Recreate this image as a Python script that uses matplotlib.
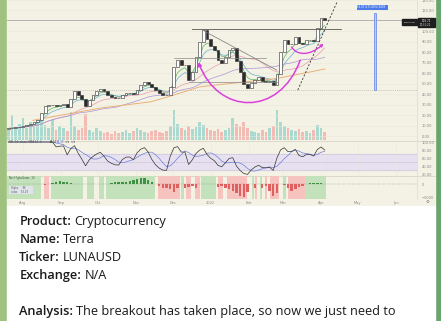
import numpy as np
import pandas as pd
import matplotlib
matplotlib.use('Agg')
import matplotlib.pyplot as plt
from matplotlib.patches import Rectangle, FancyArrowPatch
from matplotlib.path import Path

# ---------------- data ----------------
start = pd.Timestamp('2021-07-20')
candle_dates = pd.date_range('2021-07-20', periods=87, freq='3D')
first_open = 7.0
closes = [7.3, 7.8, 8.3, 8.8, 9.9, 10.8, 11.7, 13.0, 15.5, 22.0,
          28.8, 29.6, 29.6, 28.4, 29.7, 30.3, 28.2, 35.0, 43.0, 39.0,
          35.0, 28.8, 34.5, 38.8, 42.6, 45.4, 43.0, 39.5, 37.7, 36.6,
          36.4, 39.4, 40.9, 41.0, 40.1, 44.3, 48.7, 51.5, 50.0, 46.8,
          43.6, 41.0, 39.2, 39.0, 47.0, 66.0, 72.7, 68.0, 68.0, 54.0,
          61.0, 76.0, 90.0, 101.0, 92.3, 86.0, 82.0, 73.0, 70.0, 75.5,
          82.6, 84.0, 72.0, 61.0, 50.0, 46.0, 50.8, 54.0, 56.0, 52.6,
          52.0, 52.5, 48.7, 59.5, 80.0, 92.0, 87.5, 88.0, 95.0, 89.0,
          87.7, 91.5, 91.5, 90.6, 103.0, 113.0, 110.7]
volumes = [10, 25, 12, 16, 22, 12, 18, 14, 20, 22,
           15, 12, 20, 10, 14, 12, 9, 28, 14, 10,
           12, 26, 10, 8, 12, 9, 7, 8, 6, 9,
           7, 8, 10, 7, 9, 12, 10, 8, 7, 9,
           10, 8, 7, 9, 14, 30, 16, 12, 10, 14,
           11, 13, 18, 15, 12, 10, 9, 11, 8, 10,
           12, 22, 16, 14, 18, 12, 9, 8, 7, 10,
           8, 12, 14, 30, 18, 14, 12, 10, 9, 11,
           8, 9, 7, 10, 15, 12, 8]
net_highs_lows = [0, 0, 0, 0, 0, 0, 0, 0, 0, 0,
                  -20, -10, 120, 200, 250, 180, 150, 100, 60, 30,
                  10, 10, 60, 40, 10, 20, 20, 40, 120, 150,
                  180, 200, 150, 220, 300, 400, 480, 450, 350, 150,
                  50, -150, -300, -250, -400, -600, -250, 20, -300, -200,
                  -100, -250, 20, 40, 30, 20, 10, -200, -150, -250,
                  -400, -500, -700, -900, -1000, -600, 10, -250, 20, -300,
                  -150, -500, -900, -700, 20, -50, -300, -500, -350, -200,
                  -100, 60, 100, 120, 80, 100, 60]
span_start = ['2021-07-19', '2021-08-18', '2021-08-24', '2021-09-22', '2021-10-02',
              '2021-10-08', '2021-11-19', '2021-12-08', '2021-12-12', '2021-12-19',
              '2021-12-24', '2022-01-07', '2022-01-14', '2022-02-04', '2022-02-06',
              '2022-02-10', '2022-02-14', '2022-02-18', '2022-03-01', '2022-03-05',
              '2022-03-19']
span_end = ['2021-08-16', '2021-08-22', '2021-09-19', '2021-09-28', '2021-10-06',
            '2021-11-17', '2021-12-07', '2021-12-10', '2021-12-16', '2021-12-23',
            '2022-01-05', '2022-01-11', '2022-01-31', '2022-02-05', '2022-02-08',
            '2022-02-12', '2022-02-16', '2022-02-26', '2022-03-03', '2022-03-19',
            '2022-04-05']
span_sign = [1, -1, 1, 1, 1, 1, -1, 1, -1, -1,
             1, -1, -1, 1, -1, 1, -1, -1, 1, -1, 1]
ma200_dates = ['2021-08-09', '2021-10-03', '2021-11-13', '2021-11-26', '2021-12-23',
               '2022-01-19', '2022-02-24', '2022-04-04']
ma200_vals = [15.0, 26.7, 32.7, 37.0, 47.0, 50.5, 55.0, 64.0]
month_dates = ['2021-08-01', '2021-09-01', '2021-10-01', '2021-11-01', '2021-12-01',
               '2022-01-01', '2022-02-01', '2022-03-01', '2022-04-01', '2022-05-01',
               '2022-06-01']
month_labels = ['Aug', 'Sep', 'Oct', 'Nov', 'Dec', '2022', 'Feb', 'Mar', 'Apr', 'May', 'Jun']
price_ticks = [0, 10, 20, 30, 40, 50, 60, 70, 80, 90, 100, 120, 130]
rsi_ticks = [20, 40, 60, 80, 100]
last_price = 110.71
measure_low, measure_high = 43.9, 117.5
resistance = 102.7
text_lines = [("Product:", "Cryptocurrency"), ("Name:", "Terra"), ("Ticker:", "LUNAUSD"),
              ("Exchange:", "N/A"), None,
              ("Analysis:", "The breakout has taken place, so now we just need to")]

# ---------------- helpers ----------------
W, H = 441, 321
fig = plt.figure(figsize=(W / 100, H / 100), dpi=100)
fig.patch.set_facecolor('#76ab74')


def frect(x, y, w, h):
    return [x / W, 1 - (y + h) / H, w / W, h / H]


def days(d):
    return (pd.to_datetime(d) - start).days


bg = fig.add_axes([0, 0, 1, 1])
bg.set_zorder(-10)
bg.set_xlim(0, W)
bg.set_ylim(H, 0)
bg.axis('off')
bg.add_patch(Rectangle((0, 0), 7, H, color='#9fc27f'))
bg.add_patch(Rectangle((435, 0), 6, H, color='#68a56d'))
bg.add_patch(Rectangle((7, 0), 428, 205.5, color='#f4f2e5'))
bg.add_patch(Rectangle((7, 205.5), 428, 116, color='white'))
bg.plot([7, 435], [140.5, 140.5], color='#d8d5c6', lw=0.6)
bg.plot([7, 435], [175.5, 175.5], color='#d8d5c6', lw=0.6)
bg.plot([416.5, 416.5], [0, 199], color='#dedbcc', lw=0.5)

# overlay for small labels drawn above everything
fg = fig.add_axes([0, 0, 1, 1])
fg.set_zorder(10)
fg.set_xlim(0, W)
fg.set_ylim(H, 0)
fg.axis('off')

x = np.array((candle_dates - start).days)
c = np.array(closes)
o = np.concatenate([[first_open], c[:-1]])
up = c >= o
mdays = np.array(days(month_dates))
xlim = (-1.06, 332.8)
grid_c = '#ebe8da'
lab_c = '#8a8a8a'
tiny = 2.6

# ---------------- main price pane ----------------
ax = fig.add_axes(frect(7, 0, 409.5, 140))
ax.set_facecolor('none')
ax.set_zorder(2)
axv = ax.twinx()
axv.set_zorder(1)
axv.set_xlim(*xlim)
axv.set_ylim(0, 140)
axv.axis('off')
axv.bar(x, volumes, width=2.2, color=np.where(up, '#9dd6cc', '#f4b1ac'), alpha=0.85, lw=0)

ax.set_xlim(*xlim)
ax.set_ylim(-3.8, 129.6)
for s in ax.spines.values():
    s.set_visible(False)
ax.yaxis.tick_right()
ax.set_yticks(price_ticks)
ax.set_yticklabels(['%.2f' % v for v in price_ticks])
ax.tick_params(axis='y', left=False, right=False, labelleft=False, labelright=True,
               length=0, pad=3.5, labelsize=tiny, labelcolor=lab_c)
ax.set_xticks(mdays)
ax.tick_params(axis='x', length=0, labelbottom=False)
axv.set_xticks(mdays)
axv.grid(True, axis='x', color=grid_c, lw=0.4)

cs = pd.Series(c)
for lv in price_ticks:
    ax.axhline(lv, color=grid_c, lw=0.4, zorder=0)
ax.plot(x, cs.ewm(span=4).mean(), color='#5cb860', lw=0.5, zorder=3)
ax.plot(x, cs.ewm(span=7).mean(), color='#6ab0cc', lw=0.5, zorder=3)
ax.plot(x, cs.rolling(17, min_periods=1).mean(), color='#e89ab2', lw=0.5, zorder=3)
ax.plot(x, cs.rolling(30, min_periods=1).mean(), color='#ab93d8', lw=0.5, zorder=3)
ax.plot(days(ma200_dates), ma200_vals, color='#eab078', lw=0.7, zorder=3)

ax.bar(x, np.abs(c - o), bottom=np.minimum(o, c), width=2.3,
       color=np.where(up, '#ffffff', '#2a2a2a'), edgecolor='#2a2a2a', lw=0.4, zorder=5)

ax.axhline(last_price, color='#9a9a9a', lw=0.5, zorder=2)
ax.axhline(measure_low, color='#b8b5a8', lw=0.5, ls=(0, (1.5, 1.5)), zorder=2)
ax.plot([days('2021-12-17'), days('2022-04-17')], [resistance, resistance], color='#555555', lw=0.6, zorder=6)
ax.plot([days('2021-12-27'), days('2022-02-24')], [100.1, 62.9], color='#777777', lw=0.5, zorder=6)
ax.plot([days('2021-12-02'), days('2022-02-15')], [74.6, 74.6], color='#8a8a8a', lw=0.5, zorder=6)
ax.plot([days('2021-12-14'), days('2022-02-24')], [51.5, 51.5], color='#8a8a8a', lw=0.5, zorder=6)
ax.plot([days('2022-03-13'), days('2022-04-14')], [43.9, 128.0], color='#333333', lw=0.6,
        ls=(0, (2.5, 2)), zorder=6)

mag = '#d93fdc'
big_u = Path([(days('2022-03-15'), 72.5), (days('2022-02-26'), 18.0),
              (days('2022-01-07'), 20.0), (days('2021-12-22'), 70.6)],
             [Path.MOVETO, Path.CURVE4, Path.CURVE4, Path.CURVE4])
ax.add_patch(FancyArrowPatch(path=big_u, arrowstyle='-|>', mutation_scale=5,
                             color=mag, lw=1.1, zorder=7))
small_u = Path([(days('2022-03-08'), 85.1), (days('2022-03-12'), 77.0),
                (days('2022-03-23'), 76.0), (days('2022-04-03'), 88.4)],
               [Path.MOVETO, Path.CURVE4, Path.CURVE4, Path.CURVE4])
ax.add_patch(FancyArrowPatch(path=small_u, arrowstyle='-|>', mutation_scale=4,
                             color=mag, lw=1.0, zorder=7))

m0, m1 = days('2022-05-14'), days('2022-05-16')
ax.add_patch(Rectangle((m0, measure_low), m1 - m0, measure_high - measure_low,
                       facecolor='#b9cbf6', edgecolor='#5b82e8', lw=0.5, zorder=6))
ax.add_patch(Rectangle((days('2022-04-30'), 120.8), 25.5, 4.4, facecolor='#4d7bea',
                       edgecolor='none', zorder=7))
ax.text(days('2022-05-12'), 123.0, '64.38 (271.08%) 6438', fontsize=1.8, color='white',
        ha='center', va='center', zorder=8)

fg.add_patch(Rectangle((402, 19.2), 15, 5.8, color='#1e1e1e'))
fg.text(409.5, 22.1, 'LUNAUSD', fontsize=1.7, color='white', ha='center', va='center')
fg.add_patch(Rectangle((417.5, 18.2), 17.5, 8.6, color='#1e1e1e'))
fg.text(426, 20.6, '%.2f' % last_price, fontsize=2.0, color='white', ha='center', va='center')
fg.text(426, 24.6, '00:31:22', fontsize=1.8, color='#dddddd', ha='center', va='center')

# ---------------- RSI pane ----------------
delta = cs.diff()
gain = delta.clip(lower=0).ewm(alpha=1 / 5, adjust=False).mean()
loss = (-delta.clip(upper=0)).ewm(alpha=1 / 5, adjust=False).mean()
rsi = 100 - 100 / (1 + gain / loss.replace(0, np.nan))
rsi = rsi.fillna(100)
rsi_ma = rsi.rolling(5, min_periods=1).mean()

ar = fig.add_axes(frect(7, 140.5, 409.5, 35))
ar.set_facecolor('none')
ar.set_xlim(*xlim)
ar.set_ylim(16.25, 103.75)
for s in ar.spines.values():
    s.set_visible(False)
ar.yaxis.tick_right()
ar.set_yticks(rsi_ticks)
ar.set_yticklabels(['%.2f' % v for v in rsi_ticks])
ar.tick_params(axis='y', length=0, pad=3.5, labelsize=tiny, labelcolor=lab_c)
ar.set_xticks(mdays)
ar.tick_params(axis='x', length=0, labelbottom=False)
ar.grid(True, axis='x', color=grid_c, lw=0.4)
ar.axhspan(30, 70, color='#e7e0f0', zorder=0)
for lvl in (30, 50, 70):
    ar.axhline(lvl, color='#a7a3b5', lw=0.4, ls=(0, (1.5, 1.5)))
ar.plot(x, rsi_ma, color='#6d7fd8', lw=0.5)
ar.plot(x, rsi, color='#333333', lw=0.5)
ar.text(days('2021-07-20') + 0.5, 99.5, 'RSI  14  close  SMA 14  2', fontsize=1.9, color='#555555', va='center')
ar.text(days('2021-08-24') - 1, 99.5, '64.57', fontsize=1.9, color='#222222', va='center')
ar.text(days('2021-08-29') - 0.5, 99.5, '62.33', fontsize=1.9, color='#3b5bdb', va='center')
ar.text(days('2021-09-04'), 99.5, 'n/a  n/a', fontsize=1.9, color='#555555', va='center')

# ---------------- Net highs / lows pane ----------------
ah = fig.add_axes(frect(7, 175.5, 409.5, 23.5))
ah.set_facecolor('none')
ah.set_xlim(*xlim)
ah.set_ylim(-1131, 677)
for s in ah.spines.values():
    s.set_visible(False)
ah.yaxis.tick_right()
ah.set_yticks([0, -1000])
ah.set_yticklabels(['0', '\u22121000'])
ah.tick_params(axis='y', length=0, pad=3.5, labelsize=tiny, labelcolor=lab_c)
ah.set_xticks(mdays)
ah.set_xticklabels(month_labels)
ah.tick_params(axis='x', length=0, pad=1.2, labelsize=tiny, labelcolor=lab_c)
for s0, s1, sg in zip(span_start, span_end, span_sign):
    ah.axvspan(days(s0), days(s1), color='#c3e2bc' if sg > 0 else '#f6c3be', lw=0, zorder=0)
nhl = np.array(net_highs_lows)
ah.bar(x, nhl, width=2.0, color=np.where(nhl >= 0, '#3f8f45', '#e06060'), lw=0, zorder=2)
ah.axhline(0, color='#555555', lw=0.3, ls=(0, (1, 2)), zorder=1)
ah.text(0.8, 510, 'Net Highs/Lows  13', fontsize=1.9, color='#444444', va='center', zorder=4)
ah.add_patch(Rectangle((0.8, -720), 19, 560, facecolor='#dfe3ea', edgecolor='none', zorder=3))
ah.text(2.0, -300, 'Highs      96', fontsize=1.8, color='#555555', va='center', zorder=4)
ah.text(2.0, -590, 'Lows     53.29', fontsize=1.8, color='#555555', va='center', zorder=4)
fg.text(428, 202, '\u2699', fontsize=3.2, color='#777777', ha='center', va='center')

# ---------------- text block ----------------
fs = 9.2
fam = ['Open Sans', 'DejaVu Sans']
renderer = fig.canvas.get_renderer()
baselines = [225.3, 243.0, 261.0, 279.0, None, 315.0]
for item, yb in zip(text_lines, baselines):
    if item is None:
        continue
    lab, val = item
    t = fg.text(19.3, yb, lab, fontsize=fs, fontweight='semibold', family=fam,
                color='#1a1a1a', va='baseline', ha='left')
    bb = t.get_window_extent(renderer=renderer)
    fg.text(19.3 + bb.width + 3.2, yb, val, fontsize=fs, family=fam,
            color='#1a1a1a', va='baseline', ha='left')

fig.savefig('out.png', dpi=100, facecolor=fig.get_facecolor())
